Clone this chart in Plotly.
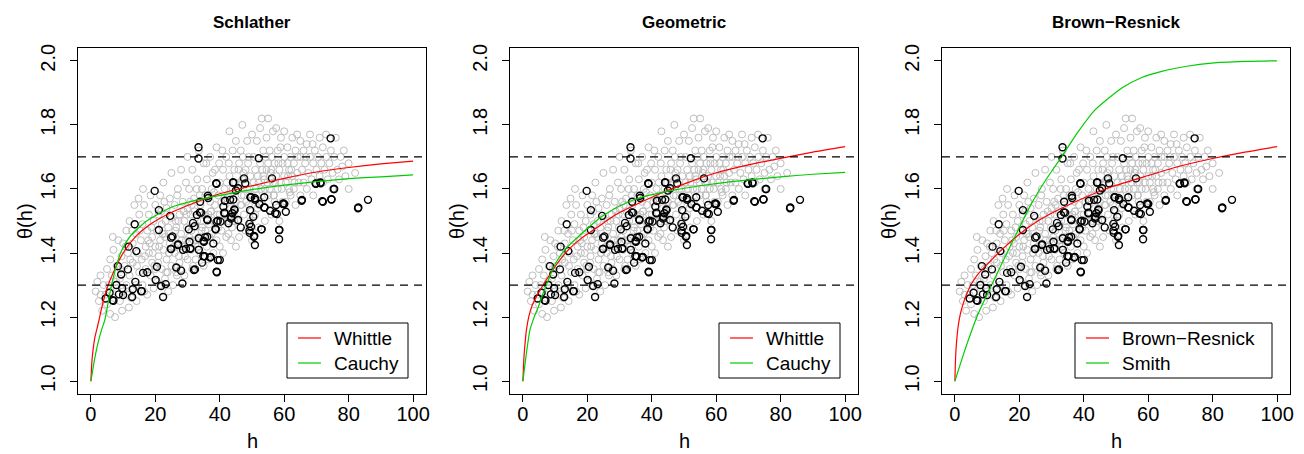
import plotly.graph_objects as go

# ---------------- data ----------------
GRAY_H = [1.5,2,2.5,3,3.5,4,4.5,5,5,3,
 5.5,6,6,6.5,7,7,7.5,8,8,8.5,9,9,9.5,10,10,6.8,9.2,7.8,
 10.5,11,11,11.5,12,12,12.5,13,13,13.5,14,14,14.5,15,15,11.8,12.8,14.2,10.8,13.2,14.8,12.2,
 15.5,15.8,16,16,16.5,17,17,17.5,17.5,18,18,18.5,18.5,19,19,19.5,19.5,20,20,20,16.2,17.8,18.8,19.2,16.8,15.2,
 20.5,20.5,21,21,21.5,21.5,22,22,22.5,22.5,23,23,23.5,23.5,24,24,24.5,24.5,25,25,25,21.2,22.2,23.2,24.2,20.8,23.8,22.8,21.8,
 25.5,25.5,26,26,26.5,26.5,27,27,27.5,27.5,28,28,28.5,28.5,29,29,29.5,29.5,30,30,30,26.2,27.2,28.2,29.2,26.8,28.8,25.8,27.8,29.8,
 30.5,30.5,31,31,31.5,31.5,32,32,32.5,32.5,33,33,33.5,33.5,34,34,34.5,34.5,35,35,35,31.2,32.2,33.2,34.2,30.8,31.8,32.8,33.8,34.8,
 35.5,35.5,36,36,36.5,36.5,37,37,37.5,37.5,38,38,38.5,38.5,39,39,39.5,39.5,40,40,40,36.2,37.2,38.2,39.2,36.8,37.8,38.8,35.8,39.8,
 40.5,40.5,41,41,41.5,41.5,42,42,42.5,42.5,43,43,43.5,43.5,44,44,44.5,44.5,45,45,45,41.2,42.2,43.2,44.2,40.8,41.8,42.8,43.8,44.8,
 45.5,45.5,46,46,46.5,46.5,47,47,47.5,47.5,48,48,48.5,48.5,49,49,49.5,49.5,50,50,50,46.2,47.2,48.2,49.2,45.8,46.8,47.8,48.8,49.8,
 50.5,50.5,51,51,51.5,51.5,52,52,52.5,52.5,53,53,53.5,53.5,54,54,54.5,54.5,55,55,55,51.2,52.2,53.2,54.2,50.8,51.8,52.8,53.8,54.8,
 55.5,55.5,56,56,56.5,56.5,57,57,57.5,57.5,58,58,58.5,58.5,59,59,59.5,59.5,60,60,60,56.2,57.2,58.2,59.2,55.8,56.8,58.8,
 60.5,60.5,61,61,61.5,61.5,62,62,62.5,62.5,63,63,63.5,63.5,64,64,64.5,65,65,65,61.2,62.2,63.2,64.2,
 65.5,66,66,66.5,67,67,67.5,68,68,68.5,69,69,69.5,70,70,66.8,68.8,
 70.5,71,71,71.5,72,72,72.5,73,73,73.5,74,74.5,75,75,
 75.5,76,76.5,77,77.5,78,78.5,79,80,80,82,
 18.3,22.7,26.3,29.7,31.3,34.3,37.3,41.3,44.3,46.7,51.7,56.7,61.7,19.7,24.3,28.3,32.7,36.7,42.7,47.3,
 16.5,21.5,26.7,31.7,11.3,9.7,14.3,23.3,27.3,33.3]
GRAY_T = [1.28,1.31,1.25,1.33,1.22,1.30,1.27,1.35,1.24,1.27,
 1.30,1.38,1.21,1.33,1.26,1.41,1.20,1.36,1.29,1.44,1.32,1.25,1.39,1.43,1.28,1.45,1.35,1.31,
 1.36,1.47,1.30,1.40,1.33,1.50,1.26,1.43,1.37,1.55,1.30,1.46,1.40,1.34,1.52,1.23,1.47,1.25,1.42,1.29,1.57,1.38,
 1.44,1.38,1.49,1.30,1.55,1.42,1.35,1.47,1.27,1.52,1.40,1.33,1.58,1.45,1.37,1.50,1.29,1.42,1.55,1.35,1.60,1.44,1.48,1.40,1.39,1.47,
 1.47,1.31,1.52,1.39,1.44,1.58,1.35,1.49,1.41,1.62,1.45,1.32,1.54,1.38,1.48,1.28,1.43,1.57,1.36,1.51,1.65,1.42,1.46,1.50,1.40,1.37,1.34,1.56,1.53,
 1.45,1.30,1.40,1.55,1.48,1.34,1.60,1.43,1.52,1.37,1.46,1.66,1.41,1.56,1.33,1.50,1.44,1.62,1.38,1.54,1.70,1.47,1.50,1.44,1.39,1.58,1.53,1.42,1.35,1.48,
 1.45,1.60,1.41,1.52,1.35,1.66,1.48,1.57,1.43,1.38,1.63,1.50,1.45,1.72,1.40,1.55,1.60,1.48,1.36,1.68,1.52,1.47,1.53,1.42,1.50,1.56,1.44,1.60,1.58,1.44,
 1.47,1.58,1.42,1.63,1.52,1.38,1.56,1.70,1.46,1.60,1.50,1.40,1.66,1.55,1.44,1.73,1.58,1.48,1.62,1.52,1.42,1.50,1.53,1.59,1.52,1.45,1.65,1.47,1.68,1.68,
 1.56,1.47,1.66,1.40,1.60,1.52,1.70,1.45,1.58,1.50,1.64,1.78,1.54,1.44,1.60,1.72,1.50,1.66,1.56,1.42,1.75,1.50,1.62,1.58,1.53,1.72,1.56,1.68,1.48,1.62,
 1.60,1.50,1.68,1.45,1.55,1.72,1.63,1.80,1.52,1.58,1.66,1.47,1.60,1.75,1.55,1.70,1.50,1.64,1.58,1.44,1.77,1.62,1.70,1.56,1.60,1.66,1.58,1.63,1.68,1.53,
 1.62,1.70,1.52,1.66,1.58,1.75,1.62,1.48,1.68,1.79,1.82,1.56,1.64,1.72,1.60,1.50,1.66,1.76,1.58,1.82,1.68,1.60,1.55,1.66,1.70,1.57,1.64,1.60,1.63,1.62,
 1.60,1.72,1.66,1.52,1.62,1.78,1.68,1.56,1.79,1.64,1.60,1.72,1.66,1.50,1.62,1.76,1.68,1.56,1.64,1.78,1.70,1.70,1.62,1.68,1.60,1.65,1.58,1.73,
 1.62,1.56,1.68,1.73,1.60,1.66,1.70,1.58,1.64,1.76,1.60,1.68,1.72,1.55,1.65,1.77,1.62,1.70,1.58,1.75,1.64,1.66,1.62,1.70,
 1.66,1.62,1.72,1.68,1.60,1.74,1.65,1.70,1.77,1.63,1.68,1.58,1.72,1.66,1.62,1.70,1.74,
 1.70,1.64,1.76,1.68,1.62,1.73,1.66,1.70,1.77,1.63,1.68,1.72,1.65,1.60,
 1.70,1.76,1.66,1.63,1.70,1.67,1.72,1.64,1.68,1.60,1.65,
 1.43,1.46,1.50,1.52,1.55,1.47,1.53,1.57,1.52,1.55,1.54,1.58,1.59,1.36,1.40,1.42,1.44,1.49,1.46,1.65,
 1.28,1.30,1.33,1.36,1.27,1.22,1.36,1.34,1.39,1.41]

BLACK_H = [33.4,33.4,52.1,74.4,19.8,38.9,44.1,47.5,47.9,45.7,45,56.2,65.5,71.2,69.8,75.4,71.8,74.6,82.9,86,
 59.6,57.2,58.4,58.4,53.9,51,49.5,52.9,50.9,50.6,49.2,49.3,49.7,43.6,46.5,49.4,44.6,41.5,39.4,38.7,
 36.1,33.8,36.3,36.4,32.2,30.4,31.7,32.9,30.6,30.8,33.5,35,36.1,33.5,35.3,37.2,34.5,39.4,39.1,32,
 28.6,30.9,27,24.9,25.3,24.9,24.6,21.1,21.1,13.6,14.1,11.7,20.5,17.5,20.1,21.8,23.2,22.4,26.5,28,
 28.4,8.4,9.4,11.5,13.8,13,15.6,7.9,9.7,5.8,8.7,7,4.6,12.8,6.7,33.9,34.2,36.2,39,40.2,
 38.7,35.4,35.1,38,34.9,37,40,32.3,39,41.4,42.7,43.9,44.5,43.5,45.7,50.4,49.2,50.7,53,52.3,
 53.8,55.6,57.5,60,57.7,60.5,58.5,65.4,39,44.2,41.6,43.2,44.2,49.7,50.9,53.8,59.7,41.1,69.8,71.3,
 75.5,72,74.7,83,27.1,29.5,24.8,10,15.8,16.2]
BLACK_T = [1.73,1.695,1.696,1.758,1.594,1.618,1.62,1.633,1.617,1.602,1.595,1.633,1.566,1.62,1.617,1.6,1.562,1.568,1.54,1.566,
 1.553,1.524,1.472,1.443,1.542,1.566,1.574,1.474,1.425,1.451,1.47,1.463,1.482,1.513,1.48,1.534,1.534,1.524,1.501,1.475,
 1.505,1.527,1.579,1.572,1.484,1.474,1.494,1.519,1.435,1.415,1.446,1.4375,1.451,1.41,1.39,1.388,1.37,1.378,1.34,1.347,
 1.41,1.413,1.425,1.448,1.452,1.4125,1.516,1.534,1.472,1.49,1.406,1.42,1.357,1.34,1.316,1.297,1.303,1.263,1.355,1.345,
 1.305,1.359,1.333,1.349,1.31,1.287,1.281,1.3,1.29,1.276,1.271,1.251,1.258,1.263,1.253,1.56,1.526,1.503,1.498,1.498,
 1.474,1.449,1.435,1.43,1.39,1.386,1.378,1.349,1.342,1.526,1.493,1.524,1.536,1.508,1.503,1.513,1.491,1.453,1.474,1.553,
 1.542,1.532,1.55,1.553,1.522,1.529,1.472,1.563,1.616,1.62,1.563,1.566,1.567,1.574,1.571,1.574,1.555,1.545,1.616,1.618,
 1.6,1.56,1.567,1.542,1.427,1.413,1.413,1.269,1.281,1.338]

# fitted curves
SCH_WHITTLE_H = [0,0.3,0.7,1.2,1.8,2.5,3.5,5,7,10,14,18,24,33,40,50,60,70,80,90,100]
SCH_WHITTLE_T = [1.0,1.06,1.10,1.135,1.16,1.19,1.235,1.29,1.34,1.40,1.453,1.487,1.522,1.56,1.585,1.61,1.633,1.653,1.667,1.678,1.687]
SCH_CAUCHY_H = [0,0.5,1,2,3.3,4.3,6.4,9.2,12,17.3,25,33,40,50,60,70,80,90,100]
SCH_CAUCHY_T = [1.0,1.03,1.06,1.11,1.16,1.19,1.30,1.40,1.45,1.50,1.543,1.566,1.58,1.598,1.612,1.623,1.632,1.638,1.644]

GEO_WHITTLE_H = [0,0.3,0.6,1.1,1.8,2.7,4,5.3,7.9,10.5,14.1,18,23.4,28,33.8,44.1,52,59.6,70,80.3,90,100]
GEO_WHITTLE_T = [1.0,1.07,1.11,1.16,1.20,1.232,1.26,1.284,1.326,1.365,1.41,1.445,1.482,1.515,1.545,1.592,1.623,1.649,1.675,1.696,1.715,1.732]
GEO_CAUCHY_H = [0,1,2.2,3.5,4.8,6.3,7.9,10,13,18.2,24.4,30,35.8,47.2,55,64.8,80,90,100]
GEO_CAUCHY_T = [1.0,1.08,1.16,1.20,1.232,1.275,1.316,1.365,1.41,1.46,1.513,1.547,1.571,1.597,1.61,1.623,1.638,1.646,1.652]

BR_BR_H = [0,0.2,0.5,1.0,1.7,2.6,3.8,5.2,7,9.3,14.5,21.7,27,33.1,40,48.7,60,69.4,80,90,100]
BR_BR_T = [1.0,1.07,1.12,1.17,1.21,1.243,1.275,1.305,1.332,1.357,1.41,1.472,1.508,1.54,1.572,1.607,1.642,1.67,1.695,1.715,1.732]
BR_SMITH_H = [0,3.1,7,11.4,17.6,23.8,28,33.1,38,43.5,51.8,58,64.2,72,79.7,90,100]
BR_SMITH_T = [1.0,1.097,1.205,1.30,1.43,1.555,1.625,1.70,1.775,1.847,1.915,1.948,1.967,1.983,1.993,1.998,2.0]

PANEL_TITLES = ["Schlather", "Geometric", "Brown\u2212Resnick"]
CURVES = [
    [("Whittle", SCH_WHITTLE_H, SCH_WHITTLE_T), ("Cauchy", SCH_CAUCHY_H, SCH_CAUCHY_T)],
    [("Whittle", GEO_WHITTLE_H, GEO_WHITTLE_T), ("Cauchy", GEO_CAUCHY_H, GEO_CAUCHY_T)],
    [("Brown\u2212Resnick", BR_BR_H, BR_BR_T), ("Smith", BR_SMITH_H, BR_SMITH_T)],
]
X_TICKS = [0, 20, 40, 60, 80, 100]
Y_TICKS = [1.0, 1.2, 1.4, 1.6, 1.8, 2.0]
Y_TICK_LABELS = ["1.0", "1.2", "1.4", "1.6", "1.8", "2.0"]
REF_LEVELS = [1.3, 1.7]

# ---------------- layout ----------------
W, H = 1304, 454
FONT = "Liberation Sans, Arial, Helvetica, sans-serif"
FS = 20
LEG_FS = 19
RED, GREEN = "#FF0000", "#00CD00"
panel_px = [(78, 426), (510, 858), (942, 1290)]
top_px, bot_px = 48, 394
# legend boxes (left, right, top, bottom) in pixels
legend_box = [(287, 408, 323, 378), (719, 840, 323, 378), (1075, 1272, 323, 378)]


def px(xp):
    return xp / W


def py(yp):
    return 1 - yp / H


fig = go.Figure()
layout = dict(
    width=W, height=H, margin=dict(l=0, r=0, t=0, b=0),
    paper_bgcolor="white", plot_bgcolor="white",
    font=dict(family=FONT, size=FS, color="black"),
    showlegend=False, annotations=[], shapes=[],
)

for i in range(3):
    sfx = "" if i == 0 else str(i + 1)
    xa, ya = "x" + sfx, "y" + sfx
    x0, x1 = panel_px[i]
    common = dict(showgrid=False, zeroline=False, showline=True, mirror=True,
                  linecolor="black", linewidth=1, ticks="outside", ticklen=7,
                  tickwidth=1, tickcolor="black", tickfont=dict(size=FS, family=FONT),
                  automargin=False, fixedrange=True)
    layout["xaxis" + sfx] = dict(domain=[px(x0), px(x1)], anchor=ya, range=[-4, 104],
                                 tickvals=X_TICKS, ticklabelstandoff=-5, **common)
    layout["yaxis" + sfx] = dict(domain=[py(bot_px), py(top_px)], anchor=xa,
                                 range=[0.96, 2.04], tickvals=Y_TICKS, ticktext=Y_TICK_LABELS,
                                 tickangle=-90, ticklabelstandoff=7, **common)

    fig.add_trace(go.Scatter(x=GRAY_H, y=GRAY_T, mode="markers", xaxis=xa, yaxis=ya,
                             marker=dict(symbol="circle-open", size=7, color="#BEBEBE",
                                         line=dict(width=1)),
                             showlegend=False, hoverinfo="skip"))
    fig.add_trace(go.Scatter(x=BLACK_H, y=BLACK_T, mode="markers", xaxis=xa, yaxis=ya,
                             marker=dict(symbol="circle-open", size=7, color="black",
                                         line=dict(width=1.4)),
                             showlegend=False, hoverinfo="skip"))
    for (name, hx, ty), col in zip(CURVES[i], [RED, GREEN]):
        fig.add_trace(go.Scatter(x=hx, y=ty, mode="lines", name=name, xaxis=xa, yaxis=ya,
                                 line=dict(color=col, width=1.2, shape="spline", smoothing=0.6),
                                 showlegend=False))

    for lvl in REF_LEVELS:
        layout["shapes"].append(dict(type="line", xref=xa + " domain", x0=0, x1=1,
                                     yref=ya, y0=lvl, y1=lvl, layer="above",
                                     line=dict(color="black", width=1.2, dash="8px,6px")))

    # legend (box, line keys, labels)
    bl, br, bt, bb = legend_box[i]
    layout["shapes"].append(dict(type="rect", xref="paper", yref="paper",
                                 x0=px(bl), x1=px(br), y0=py(bb), y1=py(bt), layer="above",
                                 fillcolor="white", line=dict(color="black", width=1)))
    for k, ((name, _, _), col) in enumerate(zip(CURVES[i], [RED, GREEN])):
        yk = 338 + 25 * k
        layout["shapes"].append(dict(type="line", xref="paper", yref="paper",
                                     x0=px(bl + 11), x1=px(bl + 34), y0=py(yk), y1=py(yk),
                                     layer="above", line=dict(color=col, width=1.2)))
        layout["annotations"].append(dict(text=name, x=px(bl + 45), y=py(yk), xref="paper",
                                          yref="paper", showarrow=False, xanchor="left",
                                          yanchor="middle", font=dict(size=LEG_FS)))

    cx = px((x0 + x1) / 2)
    layout["annotations"].append(dict(text="<b>" + PANEL_TITLES[i] + "</b>", x=cx, y=py(22),
                                      xref="paper", yref="paper", showarrow=False,
                                      xanchor="center", yanchor="middle",
                                      font=dict(size=17, family=FONT)))
    layout["annotations"].append(dict(text="h", x=cx, y=py(441), xref="paper",
                                      yref="paper", showarrow=False,
                                      xanchor="center", yanchor="middle", font=dict(size=FS)))
    layout["annotations"].append(dict(text="\u03b8(h)", x=px(x0 - 53),
                                      y=py((top_px + bot_px) / 2), xref="paper",
                                      yref="paper", showarrow=False, textangle=-90,
                                      xanchor="center", yanchor="middle",
                                      font=dict(size=FS)))

fig.update_layout(**layout)
fig.write_html("out.html", config={"displayModeBar": False},
               post_script="document.body.style.margin='0';document.body.style.overflow='hidden';")
